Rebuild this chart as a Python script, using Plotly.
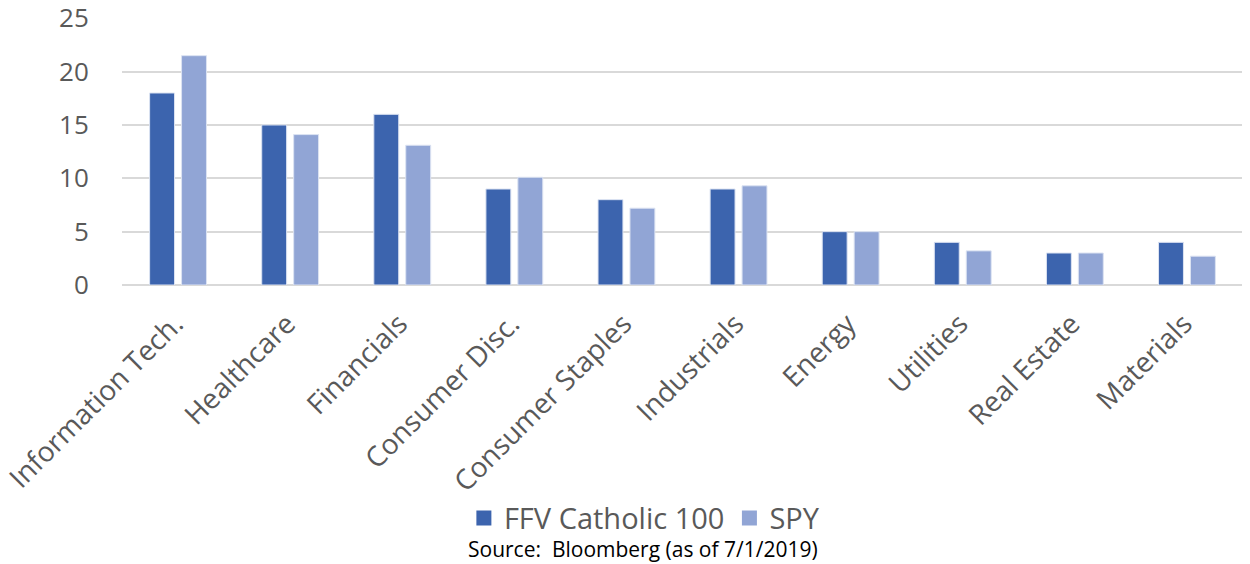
import plotly.graph_objects as go

categories = ["Information Tech.", "Healthcare", "Financials", "Consumer Disc.",
              "Consumer Staples", "Industrials", "Energy", "Utilities",
              "Real Estate", "Materials"]
ffv = [18, 15, 16, 9, 8, 9, 5, 4, 3, 4]
spy = [21.5, 14.1, 13.1, 10.1, 7.2, 9.3, 5, 3.2, 3, 2.7]
y_ticks = [0, 5, 10, 15, 20, 25]
series_names = ["FFV Catholic 100", "SPY"]
colors = ["#3C64AE", "#91A5D5"]

FONT = "'Open Sans', sans-serif"
fig = go.Figure()
for name, vals, col in zip(series_names, [ffv, spy], colors):
    fig.add_trace(go.Bar(x=categories, y=vals, name=name, showlegend=False,
                         marker=dict(color=col, line=dict(color="#DCE3F2", width=1))))
# legend swatches (larger squares like the reference)
for name, col in zip(series_names, colors):
    fig.add_trace(go.Scatter(x=[None], y=[None], mode="markers", name=name,
                             marker=dict(symbol="square", size=15, color=col)))

fig.update_layout(
    width=1242, height=556,
    margin=dict(l=114, r=7, t=10, b=279),
    paper_bgcolor="white", plot_bgcolor="white",
    barmode="group", bargap=0.43, bargroupgap=0.22,
    font=dict(family=FONT, color="#595959"),
    showlegend=True,
    legend=dict(orientation="h", xref="paper", yref="paper",
                x=0.466, xanchor="center", y=-0.873, yanchor="middle",
                font=dict(size=29, color="#595959"), itemwidth=30, itemsizing="trace",
                traceorder="normal", bgcolor="rgba(0,0,0,0)"),
    annotations=[dict(text="Source:  Bloomberg (as of 7/1/2019)", xref="paper", yref="paper",
                      x=0.465, y=-0.989, xanchor="center", yanchor="middle", showarrow=False,
                      font=dict(size=21, color="black", family=FONT))],
)
fig.update_xaxes(tickangle=-45, tickfont=dict(size=28, color="#595959"),
                 showgrid=False, showline=False, ticks="", automargin=False,
                 ticklabelstandoff=16, ticklabelshift=-3)
fig.update_yaxes(range=[0, 25.03], tickvals=y_ticks, tickfont=dict(size=26, color="#595959"),
                 gridcolor="#D9D9D9", gridwidth=1.5, zeroline=True, zerolinecolor="#D9D9D9",
                 zerolinewidth=1.5, ticks="outside", ticklen=27, tickcolor="white",
                 showline=False, automargin=False, ticklabeloverflow="allow")
fig.write_html("out.html")
